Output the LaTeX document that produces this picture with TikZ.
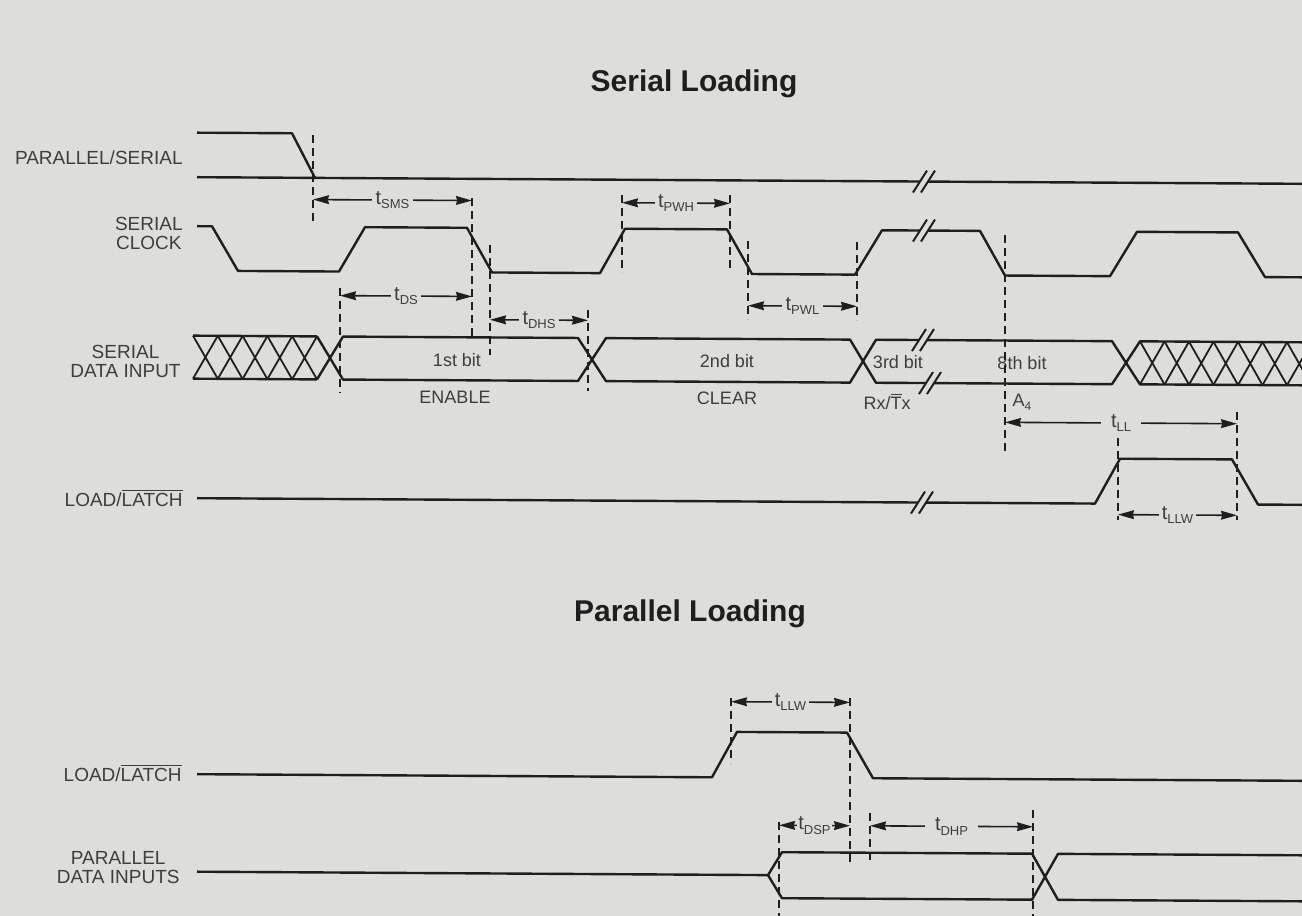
\documentclass[tikz,border=0pt]{standalone}
\usepackage{fontspec}
\setmainfont{Liberation Sans}
\usetikzlibrary{arrows.meta}

\definecolor{papel}{RGB}{221,221,218}
\definecolor{tinta}{RGB}{30,30,30}
\definecolor{rotulo}{RGB}{62,62,62}

\newcommand{\tiempo}[1]{t\raisebox{-0.45ex}{\fontsize{6.5}{7}\selectfont #1}}

\begin{document}
\begin{tikzpicture}[x=0.5pt, y=-0.5pt,
    senal/.style={tinta, line width=1.2pt, line join=round},
    guia/.style={tinta, line width=0.6pt, dash pattern=on 4pt off 2.5pt},
    cota/.style={tinta, line width=0.8pt, <->, >={Stealth[length=8pt,width=4.4pt,inset=0.6pt]}},
    tlab/.style={fill=papel, inner sep=1.6pt, text=rotulo, font=\fontsize{10}{10}\selectfont},
    nombre/.style={anchor=east, align=center, inner sep=0pt, text=rotulo, font=\fontsize{9.5}{9.5}\selectfont},
    bit/.style={text=rotulo, font=\fontsize{9}{9}\selectfont},
    titulo/.style={text=tinta, font=\fontsize{15}{15}\selectfont\bfseries},
    corte/.pic={
        \fill[papel] (-4,-2.6) rectangle (4,2.6);
        \draw[tinta, line width=1pt] (-11,11) -- (3,-11);
        \draw[tinta, line width=1pt] (-3,11) -- (11,-11);
    }]
    \useasboundingbox (0,0) rectangle (1302,916);
    \fill[papel] (0,0) rectangle (1302,916);

    % Titulos y nombres de las senales
    \node[titulo] (tserie) at (694,84) {Serial Loading};
    \node[titulo] (tparalelo) at (690,614) {Parallel Loading};
    \node[nombre] (ps) at (183,158) {PARALLEL/SERIAL};
    \node[nombre] (reloj) at (183,233) {SERIAL\\CLOCK};
    \node[nombre] (datos) at (181,361) {SERIAL\\DATA INPUT};
    \node[nombre] (carga) at (183,498) {LOAD/$\overline{\mbox{LATCH}}$};
    \node[nombre] (cargap) at (182,773) {LOAD/$\overline{\mbox{LATCH}}$};
    \node[nombre] (datosp) at (180,868) {PARALLEL\\DATA INPUTS};

    % Bits
    \node[bit] (b1) at (457,360) {1st bit};
    \node[bit] (b2) at (727,361) {2nd bit};
    \node[bit] (b3) at (898,362) {3rd bit};
    \node[bit] (b8) at (1022,363) {8th bit};
    \node[bit] (enable) at (455,397) {ENABLE};
    \node[bit] (clear) at (727,398) {CLEAR};
    \node[bit] (rxtx) at (887,401) {Rx/$\overline{\mbox{T}}$x};
    \node[bit] (a4) at (1022,402) {A\raisebox{-0.45ex}{\fontsize{6}{6}\selectfont 4}};

    \begin{scope}[yslant=-0.006]
        % Carga serie
        \draw[senal] (197,131.5) -- (292,131.5) -- (315,176);
        \draw[senal] (197,176) -- (1302,176);
        \pic at (924,176) {corte};

        \draw[senal] (197,225) -- (212,225) -- (238,269.5) -- (339,269.5) -- (365,225) -- (467,225)
            -- (492,269.5) -- (600,269.5) -- (625,225) -- (727,225) -- (752,269.5) -- (855,269.5)
            -- (882,225) -- (980,225) -- (1005,269.5) -- (1110,269.5) -- (1137,225) -- (1238,225)
            -- (1265,269.5) -- (1302,269.5);
        \pic at (924,225) {corte};

        % Datos serie
        \draw[senal] (193,334.5) -- (317,334.5) (193,377.5) -- (317,377.5);
        \foreach \x in {193,217.8,242.6,267.4,292.2}
            \draw[tinta, line width=0.9pt] (\x,334.5) -- ++(24.8,43) (\x,377.5) -- ++(24.8,-43);
        \draw[senal] (317,334.5) -- (343,377.5) -- (578,377.5) -- (606,334.5) -- (850,334.5)
            -- (876,377.5) -- (1112,377.5) -- (1140,334.5) -- (1302,334.5);
        \draw[senal] (317,377.5) -- (343,334.5) -- (578,334.5) -- (606,377.5) -- (850,377.5)
            -- (876,334.5) -- (1112,334.5) -- (1140,377.5) -- (1302,377.5);
        \begin{scope}
            \clip (1140,320) rectangle (1302,395);
            \foreach \x in {1140,1164.5,...,1290}
                \draw[tinta, line width=0.9pt] (\x,334.5) -- ++(24.5,43) (\x,377.5) -- ++(24.5,-43);
        \end{scope}
        \pic at (923,334.5) {corte};
        \pic at (930,377.5) {corte};

        \draw[senal] (197,497) -- (1095,497) -- (1120,452) -- (1232,452) -- (1258,497) -- (1302,497);
        \pic at (922,497) {corte};

        % Lineas guia (serie)
        \draw[guia] (313,133) -- (313,220);
        \draw[guia] (472,195) -- (472,335);
        \draw[guia] (490,242) -- (490,352);
        \draw[guia] (340,286) -- (340,391);
        \draw[guia] (588,306) -- (588,387);
        \draw[guia] (622,191) -- (622,269);
        \draw[guia] (730,191) -- (730,266);
        \draw[guia] (748,237) -- (748,315);
        \draw[guia] (857,237) -- (857,315);
        \draw[guia] (1005,229) -- (1005,449);
        \draw[guia] (1118,431) -- (1118,513);
        \draw[guia] (1237,405) -- (1237,513);

        % Cotas (serie)
        \coordinate (sms-i) at (313,197.7);  \coordinate (sms-d) at (472,197.7);
        \coordinate (pwh-i) at (622,199);    \coordinate (pwh-d) at (730,199);
        \coordinate (ds-i) at (340,293.6);   \coordinate (ds-d) at (472,293.6);
        \coordinate (dhs-i) at (490,316.8);  \coordinate (dhs-d) at (588,316.8);
        \coordinate (pwl-i) at (748,301.2);  \coordinate (pwl-d) at (857,301.2);
        \coordinate (ll-i) at (1005,416.3);  \coordinate (ll-d) at (1237,416.3);
        \coordinate (llw-i) at (1118,507.9); \coordinate (llw-d) at (1237,507.9);
        \draw[cota] (sms-i) -- node[tlab] (tsms) {\tiempo{SMS}} (sms-d);
        \draw[cota] (pwh-i) -- node[tlab] (tpwh) {\tiempo{PWH}} (pwh-d);
        \draw[cota] (ds-i) -- node[tlab] (tds) {\tiempo{DS}} (ds-d);
        \draw[cota] (dhs-i) -- node[tlab] (tdhs) {\tiempo{DHS}} (dhs-d);
        \draw[cota] (pwl-i) -- node[tlab] (tpwl) {\tiempo{PWL}} (pwl-d);
        \draw[cota] (ll-i) -- node[tlab, inner xsep=5pt] (tll) {\tiempo{LL}} (ll-d);
        \draw[cota] (llw-i) -- node[tlab] (tllw) {\tiempo{LLW}} (llw-d);

        % Carga paralela
        \draw[senal] (197,773) -- (712,773) -- (737,727.5) -- (847,727.5) -- (873,773) -- (1302,773);
        \draw[senal] (197,870.5) -- (768,870.5) -- (782,847.5) -- (1032,847.5) -- (1058,893.5) -- (1302,893.5);
        \draw[senal] (768,870.5) -- (782,893.5) -- (1032,893.5) -- (1058,847.5) -- (1302,847.5);

        \draw[guia] (731,694) -- (731,759);
        \draw[guia] (850,693) -- (850,857);
        \draw[guia] (779,817) -- (779,912);
        \draw[guia] (870,808) -- (870,857);
        \draw[guia] (1033,804) -- (1033,912);

        \coordinate (llwp-i) at (731,697.3); \coordinate (llwp-d) at (850,697.3);
        \coordinate (dsp-i) at (779,820.6);  \coordinate (dsp-d) at (850,820.6);
        \coordinate (dhp-i) at (870,820.6);  \coordinate (dhp-d) at (1033,820.6);
        \draw[cota] (llwp-i) -- node[tlab] (tllwp) {\tiempo{LLW}} (llwp-d);
        \draw[cota] (dsp-i) -- node[tlab, inner sep=0.5pt] (tdsp) {\tiempo{DSP}} (dsp-d);
        \draw[cota] (dhp-i) -- node[tlab, inner xsep=5pt] (tdhp) {\tiempo{DHP}} (dhp-d);
    \end{scope}
\end{tikzpicture}
\end{document}
